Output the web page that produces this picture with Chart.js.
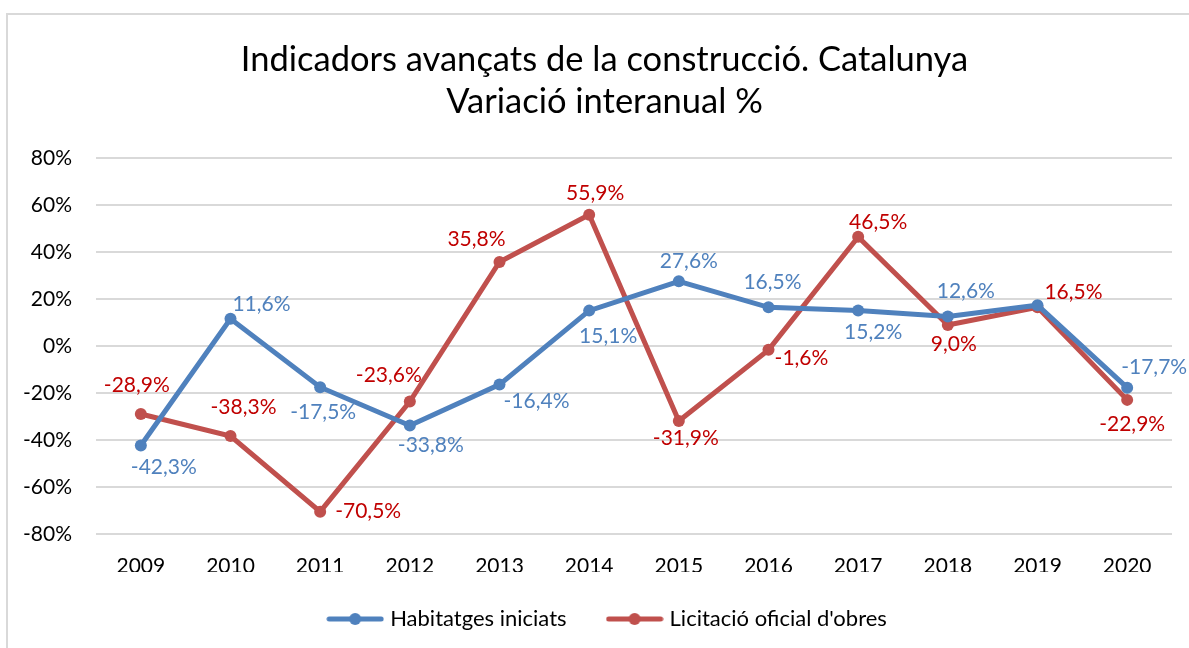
<!DOCTYPE html>
<html>
<head>
<meta charset="utf-8">
<script src="https://cdn.jsdelivr.net/npm/chart.js@4/dist/chart.umd.min.js"></script>
<style>
  html, body { margin: 0; padding: 0; background: #fff; overflow: hidden; }
  #frame { position: absolute; left: 6px; top: 13px; width: 1400px; height: 900px;
           border-left: 2px solid #d9d9d9; border-top: 2px solid #d9d9d9; }
  #wrap { position: absolute; left: 0; top: 0; width: 1189px; height: 648px; }
</style>
</head>
<body>
<div id="frame"></div>
<div id="wrap"><canvas id="c" width="1189" height="648"></canvas></div>
<script>
// ---- Data ----
const years = ['2009','2010','2011','2012','2013','2014','2015','2016','2017','2018','2019','2020'];
const habitatgesIniciats = [-42.3, 11.6, -17.5, -33.8, -16.4, 15.1, 27.6, 16.5, 15.2, 12.6, 17.4, -17.7];
const licitacioObres = [-28.9, -38.3, -70.5, -23.6, 35.8, 55.9, -31.9, -1.6, 46.5, 9.0, 16.5, -22.9];
const habitatgesLabelShown = [true, true, true, true, true, true, true, true, true, true, false, true];
const licitacioLabelShown = [true, true, true, true, true, true, true, true, true, true, true, true];
const yMin = -80, yMax = 80, yStep = 20;
const titleLines = ['Indicadors avançats de la construcció. Catalunya', 'Variació interanual %'];
const seriesNames = ['Habitatges iniciats', "Licitació oficial d'obres"];

// ---- Label placement (offsets from each point, px) ----
const habitatgesLabelOffset = [[23,22],[31,-15],[3,25],[21,20],[37,17],[19,26],[10,-20],[4,-25],[15,22],[18,-25],[0,0],[27,-20]];
const licitacioLabelOffset = [[-4,-29],[13,-29],[48,0],[-21,-26],[-23,-23],[6,-22],[7,17],[33,8],[20,-15],[6,19],[36,-15],[5,24]];
const titleShiftX = 18.5;    // title is centred slightly right of the plot
const legendShiftX = 23;
const legendShiftY = -8;

const FONT = "Lato, 'Open Sans', sans-serif";
const BLUE = '#4F81BD', RED = '#C0504D';
const BLUE_TXT = '#4F81BD', RED_TXT = '#C00000';

function legendIcon(color) {
  const cv = document.createElement('canvas');
  cv.width = 58; cv.height = 14;
  const g = cv.getContext('2d');
  g.strokeStyle = color; g.lineWidth = 5; g.lineCap = 'round';
  g.beginPath(); g.moveTo(3, 7); g.lineTo(55, 7); g.stroke();
  g.fillStyle = color; g.beginPath(); g.arc(29, 7, 6, 0, Math.PI * 2); g.fill();
  return cv;
}

const fmt = v => v.toFixed(1).replace('.', ',') + '%';

const shiftPlugin = {
  id: 'shiftHeader',
  afterLayout(chart) {
    const t = chart.titleBlock;
    if (t) { t.left += titleShiftX; t.right += titleShiftX; }
    const l = chart.legend;
    if (l) {
      l.left += legendShiftX; l.right += legendShiftX;
      l.top += legendShiftY; l.bottom += legendShiftY;
      if (l.legendHitBoxes) l.legendHitBoxes.forEach(h => { h.left += legendShiftX; h.top += legendShiftY; });
    }
  }
};

const labelPlugin = {
  id: 'pointLabels',
  afterDatasetsDraw(chart) {
    const ctx = chart.ctx;
    const cfgs = [
      { shown: habitatgesLabelShown, off: habitatgesLabelOffset, color: BLUE_TXT },
      { shown: licitacioLabelShown, off: licitacioLabelOffset, color: RED_TXT }
    ];
    ctx.save();
    ctx.font = '21px ' + FONT;
    ctx.textAlign = 'center';
    ctx.textBaseline = 'middle';
    chart.data.datasets.forEach((ds, di) => {
      const meta = chart.getDatasetMeta(di);
      const c = cfgs[di];
      meta.data.forEach((pt, i) => {
        if (!c.shown[i]) return;
        ctx.fillStyle = c.color;
        ctx.fillText(fmt(ds.data[i]), pt.x + c.off[i][0], pt.y + c.off[i][1]);
      });
    });
    ctx.restore();
  }
};

new Chart(document.getElementById('c'), {
  type: 'line',
  data: {
    labels: years,
    datasets: [
      { label: seriesNames[0], data: habitatgesIniciats, borderColor: BLUE, backgroundColor: BLUE,
        borderWidth: 5, pointRadius: 6, pointHoverRadius: 6, pointBackgroundColor: BLUE,
        pointBorderWidth: 0, tension: 0, pointStyle: 'circle' },
      { label: seriesNames[1], data: licitacioObres, borderColor: RED, backgroundColor: RED,
        borderWidth: 5, pointRadius: 6, pointHoverRadius: 6, pointBackgroundColor: RED,
        pointBorderWidth: 0, tension: 0, pointStyle: 'circle' }
    ]
  },
  options: {
    responsive: false,
    animation: false,
    devicePixelRatio: 1,
    layout: { padding: { left: 0, right: 17, top: 0, bottom: 0 } },
    plugins: {
      tooltip: { enabled: false },
      title: {
        display: true, text: titleLines, color: '#000',
        font: { family: FONT, size: 34.5, weight: 'normal', lineHeight: 1.22 },
        padding: { top: 39, bottom: 35 }
      },
      legend: {
        display: true, position: 'bottom',
        labels: {
          color: '#000', font: { family: FONT, size: 22 },
          usePointStyle: true, pointStyleWidth: 48, boxHeight: 14, padding: 44,
          generateLabels(chart) {
            return chart.data.datasets.map((ds, i) => ({
              text: ds.label, pointStyle: legendIcon(i === 0 ? BLUE : RED),
              fillStyle: ds.borderColor, strokeStyle: ds.borderColor, lineWidth: 0,
              hidden: false, datasetIndex: i, fontColor: '#000'
            }));
          }
        }
      }
    },
    scales: {
      x: {
        offset: true,
        grid: { display: false, drawTicks: false },
        border: { display: false },
        ticks: { color: '#000', font: { family: FONT, size: 21 }, padding: 20, maxRotation: 0 },
        afterFit(s) { s.height = 38; }
      },
      y: {
        min: yMin, max: yMax,
        grid: { color: '#d9d9d9', lineWidth: 2, drawTicks: false },
        border: { display: false },
        ticks: { stepSize: yStep, color: '#000', font: { family: FONT, size: 21 }, padding: 24,
                 callback: v => v + '%' },
        afterFit(s) { s.width = 96; }
      }
    }
  },
  plugins: [shiftPlugin, labelPlugin]
});
</script>
</body>
</html>
